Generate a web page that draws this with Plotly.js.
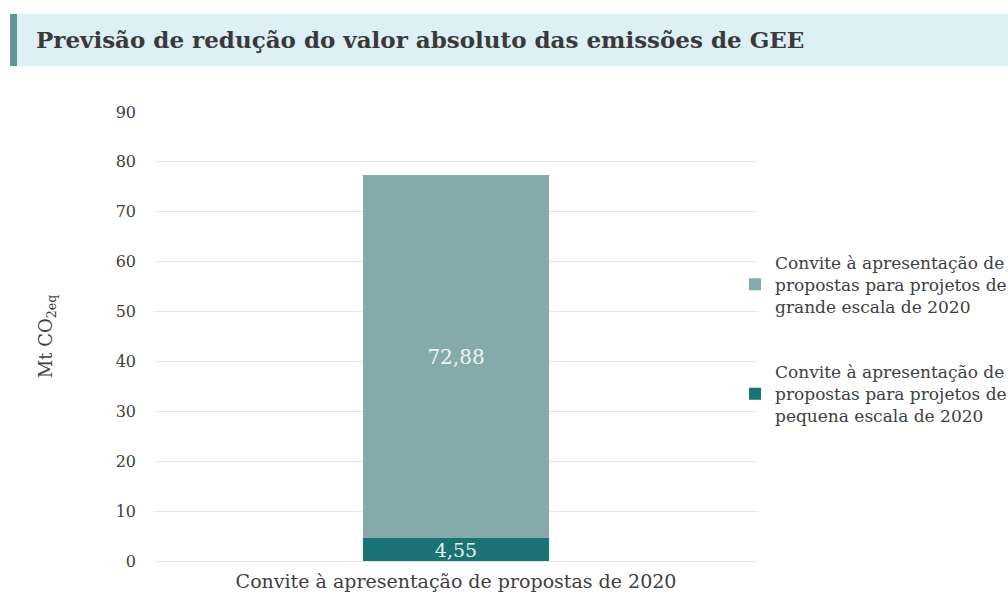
<!DOCTYPE html>
<html>
<head>
<meta charset="utf-8">
<script src="https://cdn.plot.ly/plotly-3.0.1.min.js"></script>
<style>html,body{margin:0;padding:0;background:#fff;} #chart{width:1008px;height:603px;}</style>
</head>
<body>
<div id="chart"></div>
<script>
const categories = ["Convite à apresentação de propostas de 2020"];
const smallScale = [4.55];
const largeScale = [72.88];
const seriesNames = [
  "Convite à apresentação de<br>propostas para projetos de<br>pequena escala de 2020",
  "Convite à apresentação de<br>propostas para projetos de<br>grande escala de 2020"
];
const yTicks = [0, 10, 20, 30, 40, 50, 60, 70, 80, 90];
const titleText = "Previsão de redução do valor absoluto das emissões de GEE";

const serif = "DejaVu Serif";

const traces = [
  {
    type: "bar", x: categories, y: smallScale, name: seriesNames[0], legendgroup: "a", legendrank: 2,
    marker: {color: "#1b7373"},
    texttemplate: "%{y:.2f}", textposition: "inside", insidetextanchor: "middle",
    constraintext: "none",
    textfont: {family: serif, size: 19, color: "#e8f0f0"}
  },
  {
    type: "bar", x: categories, y: largeScale, name: seriesNames[1], legendgroup: "b", legendrank: 1,
    marker: {color: "#84aaac"},
    texttemplate: "%{y:.2f}", textposition: "inside", insidetextanchor: "middle",
    constraintext: "none",
    textfont: {family: serif, size: 20, color: "#eef4f4"}
  }
];

const layout = {
  width: 1008, height: 603,
  separators: ",.",
  barmode: "stack",
  bargap: 0.69,
  paper_bgcolor: "#ffffff", plot_bgcolor: "#ffffff",
  margin: {l: 155, r: 251, t: 112, b: 42, pad: 0, autoexpand: false},
  font: {family: serif, color: "#404040"},
  xaxis: {
    showgrid: false, zeroline: false, showline: false, ticks: "",
    tickfont: {family: serif, size: 19, color: "#404040"},
    ticklabelstandoff: 7
  },
  yaxis: {
    range: [0, 90], tickvals: yTicks, ticks: "", ticklen: 0,
    showgrid: true, gridcolor: "#e6e6e6", gridwidth: 1,
    zeroline: true, zerolinecolor: "#e6e6e6", showline: false,
    tickfont: {family: serif, size: 16, color: "#404040"},
    ticklabelstandoff: 18,
    title: {text: "Mt CO<sub>2eq</sub>", font: {family: serif, size: 18, color: "#404040"}, standoff: 58}
  },
  legend: {
    x: (735 - 155) / 602, xanchor: "left", y: 0.494, yanchor: "middle",
    traceorder: "grouped", tracegroupgap: 40,
    font: {family: serif, size: 17, color: "#404040"},
    itemwidth: 30, bgcolor: "rgba(0,0,0,0)"
  },
  title: {
    text: "<b>" + titleText + "</b>",
    font: {family: serif, size: 23, color: "#3a3a3a"},
    x: 36 / 1008, xanchor: "left", xref: "container",
    y: 1 - 40 / 603, yanchor: "middle", yref: "container"
  },
  shapes: [
    {type: "rect", xref: "paper", yref: "paper",
     x0: (10 - 155) / 602, x1: (1008 - 155) / 602, y0: (561 - 66) / 449, y1: (561 - 14) / 449,
     fillcolor: "#ddf0f5", line: {width: 0}, layer: "below"},
    {type: "rect", xref: "paper", yref: "paper",
     x0: (10 - 155) / 602, x1: (17 - 155) / 602, y0: (561 - 66) / 449, y1: (561 - 14) / 449,
     fillcolor: "#5e9597", line: {width: 0}, layer: "below"}
  ],
  showlegend: true
};

Plotly.newPlot("chart", traces, layout, {displayModeBar: false, staticPlot: true});
</script>
</body>
</html>
